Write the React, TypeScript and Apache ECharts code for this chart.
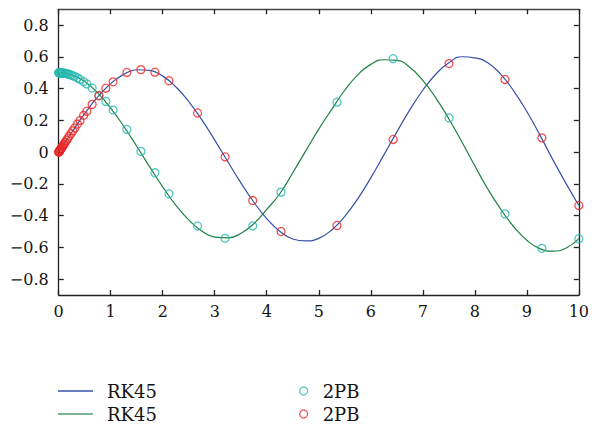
import React, { useEffect, useRef } from "react";
import * as echarts from "echarts";

// RK45 continuous solutions
const rkX = [0, 0.25, 0.5, 0.75, 1.0, 1.25, 1.5, 1.75, 2.0, 2.25, 2.5, 2.75, 3.0, 3.25, 3.5, 3.75, 4.0, 4.25, 4.5, 4.75, 5.0, 5.25, 5.5, 5.75, 6.0, 6.25, 6.5, 6.75, 7.0, 7.25, 7.5, 7.75, 8.0, 8.25, 8.5, 8.75, 9.0, 9.25, 9.5, 9.75, 10.0];
const rkBlue = [0, 0.124, 0.243, 0.348, 0.432, 0.49, 0.519, 0.515, 0.479, 0.412, 0.319, 0.205, 0.076, -0.059, -0.192, -0.314, -0.419, -0.498, -0.547, -0.559, -0.543, -0.49, -0.404, -0.294, -0.162, -0.019, 0.126, 0.266, 0.39, 0.491, 0.563, 0.601, 0.594, 0.563, 0.49, 0.385, 0.256, 0.109, -0.047, -0.195, -0.336];
const rkGreen = [0.5, 0.487, 0.445, 0.373, 0.277, 0.163, 0.037, -0.093, -0.219, -0.333, -0.427, -0.496, -0.535, -0.54, -0.512, -0.451, -0.361, -0.262, -0.13, 0.008, 0.145, 0.27, 0.39, 0.487, 0.553, 0.582, 0.578, 0.535, 0.452, 0.342, 0.21, 0.065, -0.086, -0.232, -0.36, -0.47, -0.555, -0.608, -0.624, -0.605, -0.545];

// 2PB discrete solutions
const pbX = [0, 0.004, 0.01, 0.017, 0.025, 0.035, 0.046, 0.058, 0.072, 0.088, 0.105, 0.125, 0.148, 0.173, 0.2, 0.235, 0.27, 0.31, 0.36, 0.41, 0.48, 0.54, 0.643, 0.772, 0.906, 1.045, 1.31, 1.58, 1.85, 2.12, 2.67, 3.2, 3.73, 4.275, 5.35, 6.43, 7.505, 8.58, 9.29, 10];
const pbCyan = [0.5, 0.5, 0.5, 0.5, 0.5, 0.5, 0.499, 0.499, 0.499, 0.498, 0.497, 0.496, 0.495, 0.493, 0.49, 0.486, 0.482, 0.476, 0.468, 0.458, 0.444, 0.43, 0.404, 0.358, 0.32, 0.265, 0.143, 0.005, -0.13, -0.262, -0.465, -0.543, -0.465, -0.252, 0.315, 0.589, 0.215, -0.389, -0.606, -0.545];
const pbRed = [0, 0.002, 0.005, 0.0085, 0.0125, 0.0175, 0.023, 0.029, 0.036, 0.044, 0.052, 0.062, 0.074, 0.086, 0.1, 0.117, 0.134, 0.153, 0.177, 0.2, 0.232, 0.258, 0.301, 0.355, 0.403, 0.443, 0.502, 0.52, 0.504, 0.45, 0.247, -0.03, -0.305, -0.5, -0.462, 0.08, 0.558, 0.458, 0.09, -0.336];

const yTicks = [-0.8, -0.6, -0.4, -0.2, 0, 0.2, 0.4, 0.6, 0.8];

const FONT = "DejaVu Serif";
const TXT = "#141414";
const BLUE = "#3552a8";
const GREEN = "#1f8043";
const CYAN = "#27b8b2";
const RED = "#ec2424";

export default function App() {
  const ref = useRef<HTMLDivElement>(null);
  useEffect(() => {
    if (!ref.current) return;
    const chart = echarts.init(ref.current, null, { renderer: "svg" });
    const fmt = (v: number) => {
      const r = Math.round(v * 10) / 10;
      if (r === 0) return "0";
      return r < 0 ? "\u2212" + Math.abs(r).toFixed(1) : r.toFixed(1);
    };
    const tick = { inside: true, length: 5, lineStyle: { color: "#222", width: 1.3 } };
    chart.setOption({
      animation: false,
      backgroundColor: "#fff",
      grid: { left: 58.7, right: 11, top: 9.3, bottom: 137, containLabel: false },
      xAxis: [
        {
          type: "value", min: 0, max: 10, interval: 1, position: "bottom",
          axisLine: { show: true, onZero: false, lineStyle: { color: "#222", width: 1.3 } },
          axisTick: tick,
          axisLabel: { color: TXT, fontFamily: FONT, fontSize: 16, margin: 8 },
          splitLine: { show: false },
        },
        {
          type: "value", min: 0, max: 10, interval: 1, position: "top",
          axisLine: { show: true, onZero: false, lineStyle: { color: "#444", width: 1.3 } },
          axisTick: tick,
          axisLabel: { show: false },
          splitLine: { show: false },
        },
      ],
      yAxis: [
        {
          type: "value", min: -0.9, max: 0.9, position: "left",
          axisLine: { show: true, onZero: false, lineStyle: { color: "#222", width: 1.3 } },
          axisTick: { ...tick, customValues: yTicks },
          axisLabel: { customValues: yTicks, formatter: fmt, color: TXT, fontFamily: FONT, fontSize: 16, margin: 10 },
          splitLine: { show: false },
        },
        {
          type: "value", min: -0.9, max: 0.9, position: "right",
          axisLine: { show: true, onZero: false, lineStyle: { color: "#222", width: 1.3 } },
          axisTick: { ...tick, customValues: yTicks },
          axisLabel: { show: false },
          splitLine: { show: false },
        },
      ],
      legend: [
        {
          orient: "vertical", left: 58, top: 382, padding: 0, itemWidth: 35, itemHeight: 1.5, itemGap: 5,
          textStyle: { color: TXT, fontFamily: FONT, fontSize: 18, lineHeight: 18, padding: [0, 0, 0, 9] },
          data: [
            { name: "RK45", icon: "rect", itemStyle: { color: BLUE } },
            { name: "RK45 ", icon: "rect", itemStyle: { color: "#4f9f6c" } },
          ],
        },
        {
          orient: "vertical", left: 299, top: 382, padding: 0, itemWidth: 8, itemHeight: 8, itemGap: 5,
          textStyle: { color: TXT, fontFamily: FONT, fontSize: 18, lineHeight: 18, padding: [0, 0, 0, 10] },
          data: [
            { name: "2PB", icon: "circle", itemStyle: { color: "transparent", borderColor: CYAN, borderWidth: 1.3 } },
            { name: "2PB ", icon: "circle", itemStyle: { color: "transparent", borderColor: RED, borderWidth: 1.3 } },
          ],
        },
      ],
      series: [
        {
          name: "RK45", type: "line", smooth: true, showSymbol: false,
          lineStyle: { color: BLUE, width: 1.2 }, itemStyle: { color: BLUE },
          data: rkX.map((x, i) => [x, rkBlue[i]]), z: 2,
        },
        {
          name: "RK45 ", type: "line", smooth: true, showSymbol: false,
          lineStyle: { color: GREEN, width: 1.2 }, itemStyle: { color: GREEN },
          data: rkX.map((x, i) => [x, rkGreen[i]]), z: 2,
        },
        {
          name: "2PB", type: "scatter", symbol: "circle", symbolSize: 8,
          itemStyle: { color: "transparent", borderColor: CYAN, borderWidth: 1.3 },
          data: pbX.map((x, i) => [x, pbCyan[i]]), z: 3,
        },
        {
          name: "2PB ", type: "scatter", symbol: "circle", symbolSize: 8,
          itemStyle: { color: "transparent", borderColor: RED, borderWidth: 1.3 },
          data: pbX.map((x, i) => [x, pbRed[i]]), z: 4,
        },
      ],
    });
    return () => chart.dispose();
  }, []);
  return <div ref={ref} style={{ width: 592, height: 432, position: "absolute", left: 0, top: 0 }} />;
}
